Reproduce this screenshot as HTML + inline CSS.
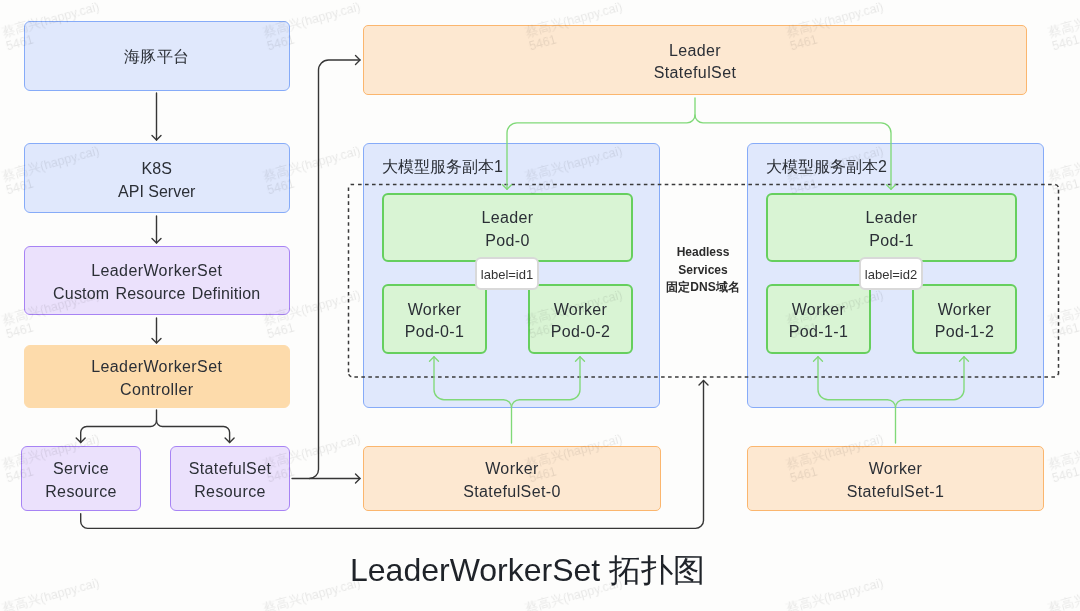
<!DOCTYPE html>
<html><head><meta charset="utf-8">
<style>
html,body{margin:0;padding:0;}
html{background:#fdfdfc;}
#w{position:absolute;left:0;top:0;width:1080px;height:611px;will-change:transform;}
body{width:1080px;height:611px;position:relative;overflow:hidden;background:transparent;font-family:"Liberation Sans",sans-serif;color:#2b2f36;}
.b{position:absolute;box-sizing:border-box;border-radius:6px;display:flex;align-items:center;justify-content:center;text-align:center;font-size:16px;line-height:22.5px;letter-spacing:0.4px;}
.t{padding-top:4px;}
.blue{background:#e0e8fc;border:1.8px solid #86abf8;}
.purple{background:#ebe1fc;border:1.7px solid #a783f4;}
.orangeS{background:#fddbab;border:1.5px solid #fddbab;}
.orange{background:#fde8d1;border:1.6px solid #fbb66e;border-radius:5px;}
.green{background:#d9f4d4;border:2px solid #66cf5e;}
.lbl{position:absolute;box-sizing:border-box;border-radius:6px;background:#fff;border:2px solid #d9d9d9;font-size:13px;display:flex;align-items:center;justify-content:center;padding-top:2px;color:#333;}
.wm{position:absolute;will-change:transform;font-size:12.5px;color:rgba(0,0,0,0.09);transform:rotate(-15.5deg);transform-origin:0 12px;white-space:nowrap;line-height:14px;}
svg{position:absolute;left:0;top:0;}
</style></head><body><div id="w">
<!-- left column -->

<div class="b blue" style="left:24px;top:21px;width:265.5px;height:70px;padding-top:2px;">海豚平台</div>
<div class="b blue t" style="left:24px;top:143px;width:265.5px;height:70px;line-height:23.5px;letter-spacing:0;">K8S<br>API Server</div>
<div class="b purple t" style="left:24px;top:246px;width:265.5px;height:69px;"><div>LeaderWorkerSet<br><span style="letter-spacing:0.2px;word-spacing:1.5px">Custom Resource Definition</span></div></div>
<div class="b orangeS t" style="left:24px;top:345px;width:265.5px;height:63px;">LeaderWorkerSet<br>Controller</div>
<div class="b purple t" style="left:21px;top:446px;width:120px;height:65px;">Service<br>Resource</div>
<div class="b purple t" style="left:170px;top:446px;width:120px;height:65px;">StatefulSet<br>Resource</div>

<!-- right -->
<div class="b orange t" style="left:363px;top:25px;width:664px;height:70px;">Leader<br>StatefulSet</div>
<div class="b blue" style="left:363px;top:143px;width:297px;height:265px;"></div>
<div class="b blue" style="left:747px;top:143px;width:297px;height:265px;"></div>
<div class="b orange t" style="left:363px;top:446px;width:298px;height:65px;">Worker<br>StatefulSet-0</div>
<div class="b orange t" style="left:747px;top:446px;width:297px;height:65px;">Worker<br>StatefulSet-1</div>

<div style="position:absolute;left:382px;top:157px;font-size:16px;line-height:20px;white-space:nowrap;">大模型服务副本1</div>
<div style="position:absolute;left:766px;top:157px;font-size:16px;line-height:20px;white-space:nowrap;">大模型服务副本2</div>

<div class="b green t" style="left:382px;top:193px;width:251px;height:69px;">Leader<br>Pod-0</div>
<div class="b green t" style="left:382px;top:284px;width:105px;height:70px;">Worker<br>Pod-0-1</div>
<div class="b green t" style="left:528px;top:284px;width:105px;height:70px;">Worker<br>Pod-0-2</div>
<div class="b green t" style="left:766px;top:193px;width:251px;height:69px;">Leader<br>Pod-1</div>
<div class="b green t" style="left:766px;top:284px;width:105px;height:70px;">Worker<br>Pod-1-1</div>
<div class="b green t" style="left:912px;top:284px;width:105px;height:70px;">Worker<br>Pod-1-2</div>

<div style="position:absolute;left:653px;top:244px;width:100px;text-align:center;font-size:12px;line-height:17.5px;font-weight:bold;color:#2b2b2b;">Headless<br>Services<br>固定DNS域名</div>

<div class="lbl" style="left:475px;top:256.5px;width:64px;height:33px;">label=id1</div>
<div class="lbl" style="left:859px;top:256.5px;width:64px;height:33px;">label=id2</div>

<svg width="1080" height="611" viewBox="0 0 1080 611">
<path d="M358.05 184.4h3.6 M365.02 184.4h3.6 M371.99 184.4h3.6 M378.96 184.4h3.6 M385.93 184.4h3.6 M392.90 184.4h3.6 M399.87 184.4h3.6 M406.84 184.4h3.6 M413.81 184.4h3.6 M420.78 184.4h3.6 M427.75 184.4h3.6 M434.72 184.4h3.6 M441.69 184.4h3.6 M448.66 184.4h3.6 M455.63 184.4h3.6 M462.60 184.4h3.6 M469.57 184.4h3.6 M476.54 184.4h3.6 M483.51 184.4h3.6 M490.48 184.4h3.6 M497.45 184.4h3.6 M504.42 184.4h3.6 M511.39 184.4h3.6 M518.36 184.4h3.6 M525.33 184.4h3.6 M532.30 184.4h3.6 M539.27 184.4h3.6 M546.24 184.4h3.6 M553.21 184.4h3.6 M560.18 184.4h3.6 M567.15 184.4h3.6 M574.12 184.4h3.6 M581.09 184.4h3.6 M588.06 184.4h3.6 M595.03 184.4h3.6 M602.00 184.4h3.6 M608.97 184.4h3.6 M615.94 184.4h3.6 M622.91 184.4h3.6 M629.88 184.4h3.6 M636.85 184.4h3.6 M643.82 184.4h3.6 M650.79 184.4h3.6 M657.76 184.4h3.6 M664.73 184.4h3.6 M671.70 184.4h3.6 M678.67 184.4h3.6 M685.64 184.4h3.6 M692.61 184.4h3.6 M699.58 184.4h3.6 M706.55 184.4h3.6 M713.52 184.4h3.6 M720.49 184.4h3.6 M727.46 184.4h3.6 M734.43 184.4h3.6 M741.40 184.4h3.6 M748.37 184.4h3.6 M755.34 184.4h3.6 M762.31 184.4h3.6 M769.28 184.4h3.6 M776.25 184.4h3.6 M783.22 184.4h3.6 M790.19 184.4h3.6 M797.16 184.4h3.6 M804.13 184.4h3.6 M811.10 184.4h3.6 M818.07 184.4h3.6 M825.04 184.4h3.6 M832.01 184.4h3.6 M838.98 184.4h3.6 M845.95 184.4h3.6 M852.92 184.4h3.6 M859.89 184.4h3.6 M866.86 184.4h3.6 M873.83 184.4h3.6 M880.80 184.4h3.6 M887.77 184.4h3.6 M894.74 184.4h3.6 M901.71 184.4h3.6 M908.68 184.4h3.6 M915.65 184.4h3.6 M922.62 184.4h3.6 M929.59 184.4h3.6 M936.56 184.4h3.6 M943.53 184.4h3.6 M950.50 184.4h3.6 M957.47 184.4h3.6 M964.44 184.4h3.6 M971.41 184.4h3.6 M978.38 184.4h3.6 M985.35 184.4h3.6 M992.32 184.4h3.6 M999.29 184.4h3.6 M1006.26 184.4h3.6 M1013.23 184.4h3.6 M1020.20 184.4h3.6 M1027.17 184.4h3.6 M1034.14 184.4h3.6 M1041.11 184.4h3.6 M1048.08 184.4h3.6 M354.39 377.1h3.6 M361.36 377.1h3.6 M368.33 377.1h3.6 M375.30 377.1h3.6 M382.27 377.1h3.6 M389.24 377.1h3.6 M396.21 377.1h3.6 M403.18 377.1h3.6 M410.15 377.1h3.6 M417.12 377.1h3.6 M424.09 377.1h3.6 M431.06 377.1h3.6 M438.03 377.1h3.6 M445.00 377.1h3.6 M451.97 377.1h3.6 M458.94 377.1h3.6 M465.91 377.1h3.6 M472.88 377.1h3.6 M479.85 377.1h3.6 M486.82 377.1h3.6 M493.79 377.1h3.6 M500.76 377.1h3.6 M507.73 377.1h3.6 M514.70 377.1h3.6 M521.67 377.1h3.6 M528.64 377.1h3.6 M535.61 377.1h3.6 M542.58 377.1h3.6 M549.55 377.1h3.6 M556.52 377.1h3.6 M563.49 377.1h3.6 M570.46 377.1h3.6 M577.43 377.1h3.6 M584.40 377.1h3.6 M591.37 377.1h3.6 M598.34 377.1h3.6 M605.31 377.1h3.6 M612.28 377.1h3.6 M619.25 377.1h3.6 M626.22 377.1h3.6 M633.19 377.1h3.6 M640.16 377.1h3.6 M647.13 377.1h3.6 M654.10 377.1h3.6 M661.07 377.1h3.6 M668.04 377.1h3.6 M675.01 377.1h3.6 M681.98 377.1h3.6 M688.95 377.1h3.6 M695.92 377.1h3.6 M702.89 377.1h3.6 M709.86 377.1h3.6 M716.83 377.1h3.6 M723.80 377.1h3.6 M730.77 377.1h3.6 M737.74 377.1h3.6 M744.71 377.1h3.6 M751.68 377.1h3.6 M758.65 377.1h3.6 M765.62 377.1h3.6 M772.59 377.1h3.6 M779.56 377.1h3.6 M786.53 377.1h3.6 M793.50 377.1h3.6 M800.47 377.1h3.6 M807.44 377.1h3.6 M814.41 377.1h3.6 M821.38 377.1h3.6 M828.35 377.1h3.6 M835.32 377.1h3.6 M842.29 377.1h3.6 M849.26 377.1h3.6 M856.23 377.1h3.6 M863.20 377.1h3.6 M870.17 377.1h3.6 M877.14 377.1h3.6 M884.11 377.1h3.6 M891.08 377.1h3.6 M898.05 377.1h3.6 M905.02 377.1h3.6 M911.99 377.1h3.6 M918.96 377.1h3.6 M925.93 377.1h3.6 M932.90 377.1h3.6 M939.87 377.1h3.6 M946.84 377.1h3.6 M953.81 377.1h3.6 M960.78 377.1h3.6 M967.75 377.1h3.6 M974.72 377.1h3.6 M981.69 377.1h3.6 M988.66 377.1h3.6 M995.63 377.1h3.6 M1002.60 377.1h3.6 M1009.57 377.1h3.6 M1016.54 377.1h3.6 M1023.51 377.1h3.6 M1030.48 377.1h3.6 M1037.45 377.1h3.6 M1044.42 377.1h3.6 M1051.39 377.1h3.6 M348.5 187.40v3.6 M348.5 194.37v3.6 M348.5 201.34v3.6 M348.5 208.31v3.6 M348.5 215.28v3.6 M348.5 222.25v3.6 M348.5 229.22v3.6 M348.5 236.19v3.6 M348.5 243.16v3.6 M348.5 250.13v3.6 M348.5 257.10v3.6 M348.5 264.07v3.6 M348.5 271.04v3.6 M348.5 278.01v3.6 M348.5 284.98v3.6 M348.5 291.95v3.6 M348.5 298.92v3.6 M348.5 305.89v3.6 M348.5 312.86v3.6 M348.5 319.83v3.6 M348.5 326.80v3.6 M348.5 333.77v3.6 M348.5 340.74v3.6 M348.5 347.71v3.6 M348.5 354.68v3.6 M348.5 361.65v3.6 M348.5 368.62v3.6 M1058.5 189.80v3.6 M1058.5 196.77v3.6 M1058.5 203.74v3.6 M1058.5 210.71v3.6 M1058.5 217.68v3.6 M1058.5 224.65v3.6 M1058.5 231.62v3.6 M1058.5 238.59v3.6 M1058.5 245.56v3.6 M1058.5 252.53v3.6 M1058.5 259.50v3.6 M1058.5 266.47v3.6 M1058.5 273.44v3.6 M1058.5 280.41v3.6 M1058.5 287.38v3.6 M1058.5 294.35v3.6 M1058.5 301.32v3.6 M1058.5 308.29v3.6 M1058.5 315.26v3.6 M1058.5 322.23v3.6 M1058.5 329.20v3.6 M1058.5 336.17v3.6 M1058.5 343.14v3.6 M1058.5 350.11v3.6 M1058.5 357.08v3.6 M1058.5 364.05v3.6 M1058.5 371.02v3.6 M350.6 184.6 Q351.5 184.4 354.1 184.4 M1055.2 184.6 A4 4 0 0 1 1058.3 187 M348.7 374.3 A4 4 0 0 0 351.3 376.8 M1058.5 371.2 V373.1 A3 3 0 0 1 1057.6 375" fill="none" stroke="#3a3a3a" stroke-width="1.5"/>
<g fill="none" stroke="#363636" stroke-width="1.4" stroke-linecap="round" stroke-linejoin="round">
<path d="M156.5 93 V140"/><path d="M152 135.5 L156.5 140 L161 135.5"/>
<path d="M156.5 216 V243"/><path d="M152 238.5 L156.5 243 L161 238.5"/>
<path d="M156.5 318 V343"/><path d="M152 338.5 L156.5 343 L161 338.5"/>
<path d="M156.5 410 V420.5 A6 6 0 0 1 150.5 426.5 H86.7 A6 6 0 0 0 80.7 432.5 V442.6"/>
<path d="M156.5 420.5 A6 6 0 0 0 162.5 426.5 H223.6 A6 6 0 0 1 229.6 432.5 V442.6"/>
<path d="M76.2 438.1 L80.7 442.6 L85.2 438.1"/><path d="M225.1 438.1 L229.6 442.6 L234.1 438.1"/>
<path d="M292 478.5 H360"/><path d="M355.5 474 L360 478.5 L355.5 483"/>
<path d="M309.5 478.5 A9 9 0 0 0 318.5 469.5 V70 A10 10 0 0 1 328.5 60 H360"/><path d="M355.5 55.5 L360 60 L355.5 64.5"/>
<path d="M80.7 513.7 V521.4 A7 7 0 0 0 87.7 528.4 H695.5 A8 8 0 0 0 703.5 520.4 V380.4"/><path d="M699 384.9 L703.5 380.4 L708 384.9"/>
</g>
<g fill="none" stroke="#80d978" stroke-width="1.35" stroke-linecap="round" stroke-linejoin="round">
<path d="M695 98 V114.9 A8 8 0 0 1 687 122.9 H517 A10 10 0 0 0 507 132.9 V189.3"/><path d="M502.5 184.8 L507 189.3 L511.5 184.8"/>
<path d="M695 114.9 A8 8 0 0 0 703 122.9 H881 A10 10 0 0 1 891 132.9 V189.3"/><path d="M886.5 184.8 L891 189.3 L895.5 184.8"/>
<path d="M511.5 443 V407.7 A8 8 0 0 0 503.5 399.7 H444 A10 10 0 0 1 434 389.7 V356.7"/><path d="M429.5 361.2 L434 356.7 L438.5 361.2"/>
<path d="M511.5 407.7 A8 8 0 0 1 519.5 399.7 H570 A10 10 0 0 0 580 389.7 V356.7"/><path d="M575.5 361.2 L580 356.7 L584.5 361.2"/>
<path d="M895.5 443 V407.7 A8 8 0 0 0 887.5 399.7 H828 A10 10 0 0 1 818 389.7 V356.7"/><path d="M813.5 361.2 L818 356.7 L822.5 361.2"/>
<path d="M895.5 407.7 A8 8 0 0 1 903.5 399.7 H954 A10 10 0 0 0 964 389.7 V356.7"/><path d="M959.5 361.2 L964 356.7 L968.5 361.2"/>
</g>
</svg>

<div class="wm" style="left:4.0px;top:26.0px;">蔡高兴(happy.cai)<br>5461</div>
<div class="wm" style="left:265.4px;top:26.0px;">蔡高兴(happy.cai)<br>5461</div>
<div class="wm" style="left:526.8px;top:26.0px;">蔡高兴(happy.cai)<br>5461</div>
<div class="wm" style="left:788.2px;top:26.0px;">蔡高兴(happy.cai)<br>5461</div>
<div class="wm" style="left:1049.6px;top:26.0px;">蔡高兴(happy.cai)<br>5461</div>
<div class="wm" style="left:4.0px;top:170.0px;">蔡高兴(happy.cai)<br>5461</div>
<div class="wm" style="left:265.4px;top:170.0px;">蔡高兴(happy.cai)<br>5461</div>
<div class="wm" style="left:526.8px;top:170.0px;">蔡高兴(happy.cai)<br>5461</div>
<div class="wm" style="left:788.2px;top:170.0px;">蔡高兴(happy.cai)<br>5461</div>
<div class="wm" style="left:1049.6px;top:170.0px;">蔡高兴(happy.cai)<br>5461</div>
<div class="wm" style="left:4.0px;top:314.0px;">蔡高兴(happy.cai)<br>5461</div>
<div class="wm" style="left:265.4px;top:314.0px;">蔡高兴(happy.cai)<br>5461</div>
<div class="wm" style="left:526.8px;top:314.0px;">蔡高兴(happy.cai)<br>5461</div>
<div class="wm" style="left:788.2px;top:314.0px;">蔡高兴(happy.cai)<br>5461</div>
<div class="wm" style="left:1049.6px;top:314.0px;">蔡高兴(happy.cai)<br>5461</div>
<div class="wm" style="left:4.0px;top:458.0px;">蔡高兴(happy.cai)<br>5461</div>
<div class="wm" style="left:265.4px;top:458.0px;">蔡高兴(happy.cai)<br>5461</div>
<div class="wm" style="left:526.8px;top:458.0px;">蔡高兴(happy.cai)<br>5461</div>
<div class="wm" style="left:788.2px;top:458.0px;">蔡高兴(happy.cai)<br>5461</div>
<div class="wm" style="left:1049.6px;top:458.0px;">蔡高兴(happy.cai)<br>5461</div>
<div class="wm" style="left:4.0px;top:602.0px;">蔡高兴(happy.cai)<br>5461</div>
<div class="wm" style="left:265.4px;top:602.0px;">蔡高兴(happy.cai)<br>5461</div>
<div class="wm" style="left:526.8px;top:602.0px;">蔡高兴(happy.cai)<br>5461</div>
<div class="wm" style="left:788.2px;top:602.0px;">蔡高兴(happy.cai)<br>5461</div>
<div class="wm" style="left:1049.6px;top:602.0px;">蔡高兴(happy.cai)<br>5461</div>
<div style="position:absolute;left:350px;top:550px;font-size:32px;line-height:40px;white-space:nowrap;color:#1f2329;">LeaderWorkerSet 拓扑图</div>
</div></body></html>
